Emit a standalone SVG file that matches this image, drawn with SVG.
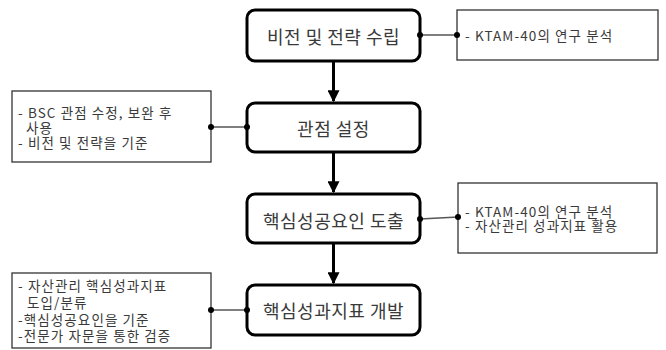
<svg xmlns="http://www.w3.org/2000/svg" width="666" height="350" viewBox="0 0 666 350">
<defs>
<style>
.main rect{fill:#fff;stroke:#000;stroke-width:3}
.note rect{fill:#fff;stroke:#333;stroke-width:1.3}
.mt{font-family:"Noto Sans CJK KR","Noto Sans",sans-serif;font-size:18px;letter-spacing:0.5px;fill:#3a3a3a;text-anchor:middle;dominant-baseline:central}
.nt{font-family:"Noto Sans CJK KR","Noto Sans",sans-serif;font-size:13.5px;letter-spacing:1.1px;fill:#3a3a3a;dominant-baseline:central}
.arr{stroke:#000;stroke-width:3;fill:none;marker-end:url(#ah)}
.ln{stroke:#555;stroke-width:1.3;fill:none}
.dot{fill:#000}
</style>
<marker id="ah" viewBox="0 0 10 10" refX="9" refY="5" markerWidth="4" markerHeight="4" markerUnits="strokeWidth" orient="auto"><path d="M0,0 L10,5 L0,10 z" fill="#000"/></marker>
</defs>
<rect width="666" height="350" fill="#fff"/>
<g id="n1" class="main"><rect x="247" y="10" width="173" height="51" rx="8"/><text class="mt" x="333.5" y="35.5">비전 및 전략 수립</text></g>
<g id="n2" class="main"><rect x="247" y="103" width="173" height="49" rx="8"/><text class="mt" x="333.5" y="128">관점 설정</text></g>
<g id="n3" class="main"><rect x="247" y="194" width="173" height="49" rx="8"/><text class="mt" x="333.5" y="219.5">핵심성공요인 도출</text></g>
<g id="n4" class="main"><rect x="247" y="285" width="173" height="50" rx="8"/><text class="mt" x="333.5" y="310">핵심성과지표 개발</text></g>
<g id="c1" class="note"><rect x="457" y="10" width="201" height="50"/><text class="nt" x="465" y="35">- KTAM-40의 연구 분석</text></g>
<g id="c2" class="note"><rect x="12" y="91" width="199" height="71"/><text class="nt" x="18" y="112">- BSC 관점 수정, 보완 후</text><text class="nt" x="26" y="127">사용</text><text class="nt" x="18" y="142">- 비전 및 전략을 기준</text></g>
<g id="c3" class="note"><rect x="458" y="183" width="199" height="70"/><text class="nt" x="465" y="211">- KTAM-40의 연구 분석</text><text class="nt" x="465" y="225">- 자산관리 성과지표 활용</text></g>
<g id="c4" class="note"><rect x="12" y="273" width="199" height="75"/><text class="nt" x="18" y="285">- 자산관리 핵심성과지표</text><text class="nt" x="27" y="302">도입/분류</text><text class="nt" x="18" y="319">-핵심성공요인을 기준</text><text class="nt" x="18" y="335">-전문가 자문을 통한 검증</text></g>
<g id="connectors">
<path class="arr" d="M333.5,61 V101"/>
<path class="arr" d="M333.5,152 V192"/>
<path class="arr" d="M333.5,243 V283"/>
<path class="ln" d="M420,35 H457"/>
<path class="ln" d="M211,127 H247"/>
<path class="ln" d="M420,219 L458,217"/>
<path class="ln" d="M211,310 H247"/>
<circle class="dot" cx="420" cy="35" r="3"/><circle class="dot" cx="457" cy="35" r="3"/>
<circle class="dot" cx="211" cy="127" r="3"/><circle class="dot" cx="247" cy="127" r="3"/>
<circle class="dot" cx="420" cy="219" r="3"/><circle class="dot" cx="458" cy="217" r="3"/>
<circle class="dot" cx="211" cy="310" r="3"/><circle class="dot" cx="247" cy="310" r="3"/>
</g>
</svg>
